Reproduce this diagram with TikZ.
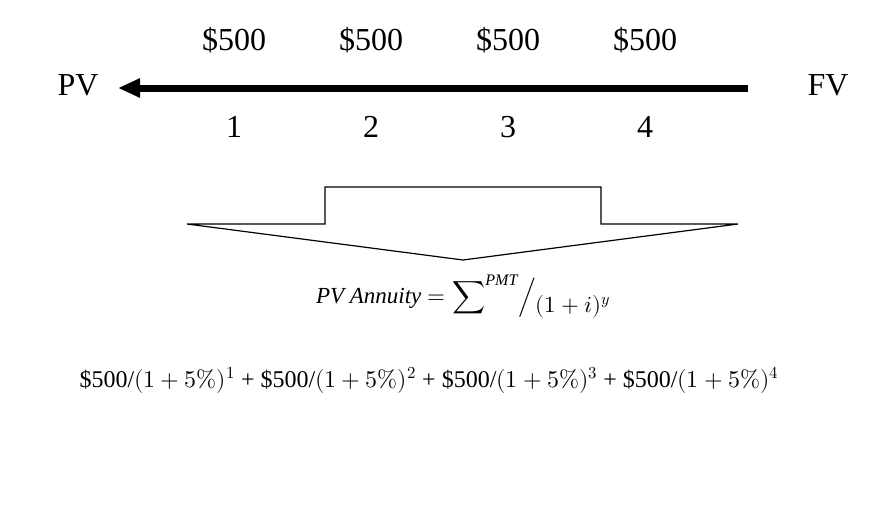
\documentclass[tikz,border=0pt]{standalone}
\usepackage{fontspec}
\usepackage{unicode-math}
\setmainfont{Liberation Serif}
\setmathfont{Latin Modern Math}
\usetikzlibrary{arrows.meta}
\begin{document}
\begin{tikzpicture}[x=1pt,y=-1pt,
  big/.style={font=\fontsize{32}{36}\selectfont},
  mid/.style={font=\fontsize{23}{27}\selectfont},
  small/.style={font=\fontsize{24}{28}\selectfont}]
\useasboundingbox (0,0) rectangle (878,530);
\node[big] (pv) at (78,85) {PV};
\node[big] (fv) at (828,85) {FV};
\coordinate (r) at (748,88);
\coordinate (l) at (118,88);
\draw[line width=7pt,-{Triangle[length=22pt,width=18pt]}] (r) -- (l);
\foreach \x/\n in {234/1,371/2,508/3,645/4}{
  \node[big] (a\n) at (\x,40) {\$500};
  \node[big] (n\n) at (\x,127) {\n};
}
\draw[line width=1.2pt,fill=white] (187,224) -- (325,224) -- (325,187) -- (601,187) -- (601,224) -- (738,224) -- (463,260) -- cycle;
\node[mid] (f) at (463,297) {$\mathit{PV\ Annuity} = \displaystyle\sum\nolimits^{\mathit{PMT}}\!\Big/\raisebox{-9pt}{$(1+i)^y$}$};
\node[small] (e) at (429,380) {\$500/$(1+5\%)^1$ + \$500/$(1+5\%)^2$ + \$500/$(1+5\%)^3$ + \$500/$(1+5\%)^4$};
\end{tikzpicture}
\end{document}
